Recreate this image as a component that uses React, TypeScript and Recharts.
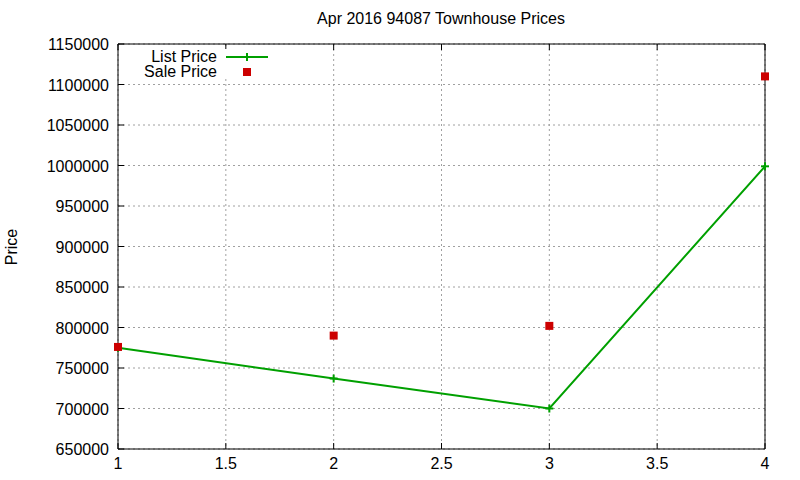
import React from "react";
import {
  ComposedChart,
  Line,
  XAxis,
  YAxis,
  CartesianGrid,
} from "recharts";

// 数据
const xValues = [1, 2, 3, 4];
const listPrice = [775000, 737000, 700000, 999000];
const salePrice = [776000, 790000, 802000, 1110000];
const xTicks = [1, 1.5, 2, 2.5, 3, 3.5, 4];
const yTicks = [650000, 700000, 750000, 800000, 850000, 900000, 950000, 1000000, 1050000, 1100000, 1150000];

const GREEN = "#00a000";
const RED = "#cc0000";
const FONT = "'Liberation Sans', Arial, sans-serif";
const FS = 16;
const TICK_LEN = 6;

const data = xValues.map((x, i) => ({ x, list: listPrice[i], sale: salePrice[i] }));

const CrossDot = (props: any) => {
  const { cx, cy } = props;
  if (cx == null || cy == null) return null;
  return (
    <g>
      <line x1={cx - 4} y1={cy} x2={cx + 4} y2={cy} stroke={GREEN} strokeWidth={2} />
      <line x1={cx} y1={cy - 4} x2={cx} y2={cy + 4} stroke={GREEN} strokeWidth={2} />
    </g>
  );
};

const SquareDot = (props: any) => {
  const { cx, cy } = props;
  if (cx == null || cy == null) return null;
  return <rect x={cx - 4} y={cy - 4} width={8} height={8} fill={RED} />;
};

// 左侧刻度：文字 + 向内的刻度线
const LeftTick = (props: any) => {
  const { x, y, payload } = props;
  const axisX = x + 9;
  return (
    <g>
      <line x1={axisX} y1={y} x2={axisX + TICK_LEN} y2={y} stroke="#000" />
      <text x={x} y={y} dy={6} textAnchor="end" fontSize={FS} fontFamily={FONT} fill="#000">
        {payload.value}
      </text>
    </g>
  );
};

const RightTick = (props: any) => {
  const { x, y } = props;
  return <line x1={x - TICK_LEN} y1={y} x2={x} y2={y} stroke="#000" />;
};

const BottomTick = (props: any) => {
  const { x, y, payload } = props;
  const axisY = y - 8;
  return (
    <g>
      <line x1={x} y1={axisY} x2={x} y2={axisY - TICK_LEN} stroke="#000" />
      <text x={x} y={y} dy={12} textAnchor="middle" fontSize={FS} fontFamily={FONT} fill="#000">
        {payload.value}
      </text>
    </g>
  );
};

const TopTick = (props: any) => {
  const { x, y } = props;
  return <line x1={x} y1={y} x2={x} y2={y + TICK_LEN} stroke="#000" />;
};

const LegendBox = () => (
  <div
    style={{
      position: "absolute",
      left: 120,
      top: 49,
      fontFamily: FONT,
      fontSize: FS,
      background: "#fff",
      lineHeight: "15px",
      padding: "0 4px 0 0",
    }}
  >
    <div style={{ display: "flex", alignItems: "center", height: 15 }}>
      <span style={{ width: 97, textAlign: "right", whiteSpace: "nowrap" }}>List Price</span>
      <svg width={50} height={15} style={{ marginLeft: 7 }}>
        <line x1={2} y1={8} x2={44} y2={8} stroke={GREEN} strokeWidth={2} />
        <line x1={23} y1={4} x2={23} y2={12} stroke={GREEN} strokeWidth={2} />
      </svg>
    </div>
    <div style={{ display: "flex", alignItems: "center", height: 15 }}>
      <span style={{ width: 97, textAlign: "right", whiteSpace: "nowrap" }}>Sale Price</span>
      <svg width={50} height={15} style={{ marginLeft: 7 }}>
        <rect x={19} y={4} width={8} height={8} fill={RED} />
      </svg>
    </div>
  </div>
);

export default function App() {
  return (
    <div style={{ position: "absolute", left: 0, top: 0, width: 800, height: 480, background: "#fff" }}>
      <div
        style={{
          position: "absolute",
          left: 117,
          width: 648,
          top: 10,
          textAlign: "center",
          fontFamily: FONT,
          fontSize: FS,
        }}
      >
        Apr 2016 94087 Townhouse Prices
      </div>
      <div
        style={{
          position: "absolute",
          left: 12,
          top: 247,
          transform: "translate(-50%, -50%) rotate(-90deg)",
          fontFamily: FONT,
          fontSize: FS,
        }}
      >
        Price
      </div>
      <ComposedChart
        width={800}
        height={480}
        data={data}
        margin={{ top: 0, right: 0, bottom: 0, left: 0 }}
        style={{ position: "absolute", left: 0, top: 0 }}
      >
        <CartesianGrid stroke="#a0a0a0" strokeDasharray="2 3" />
        <XAxis
          xAxisId={0}
          dataKey="x"
          type="number"
          domain={[1, 4]}
          ticks={xTicks}
          height={31}
          tickSize={0}
          tickMargin={8}
          tick={<BottomTick />}
          axisLine={{ stroke: "#000" }}
          interval={0}
        />
        <XAxis
          xAxisId="top"
          orientation="top"
          dataKey="x"
          type="number"
          domain={[1, 4]}
          ticks={xTicks}
          height={44}
          tickSize={0}
          tickMargin={0}
          tick={<TopTick />}
          axisLine={{ stroke: "#000" }}
          interval={0}
        />
        <YAxis
          yAxisId={0}
          type="number"
          domain={[650000, 1150000]}
          ticks={yTicks}
          width={118}
          tickSize={0}
          tickMargin={9}
          tick={<LeftTick />}
          axisLine={{ stroke: "#000" }}
          interval={0}
        />
        <YAxis
          yAxisId="right"
          orientation="right"
          type="number"
          domain={[650000, 1150000]}
          ticks={yTicks}
          width={35}
          tickSize={0}
          tickMargin={0}
          tick={<RightTick />}
          axisLine={{ stroke: "#000" }}
          interval={0}
        />
        <Line
          dataKey="list"
          name="List Price"
          stroke={GREEN}
          strokeWidth={2}
          dot={<CrossDot />}
          activeDot={false}
          isAnimationActive={false}
        />
        <Line
          dataKey="sale"
          name="Sale Price"
          stroke="none"
          dot={<SquareDot />}
          activeDot={false}
          isAnimationActive={false}
        />
      </ComposedChart>
      <LegendBox />
    </div>
  );
}
